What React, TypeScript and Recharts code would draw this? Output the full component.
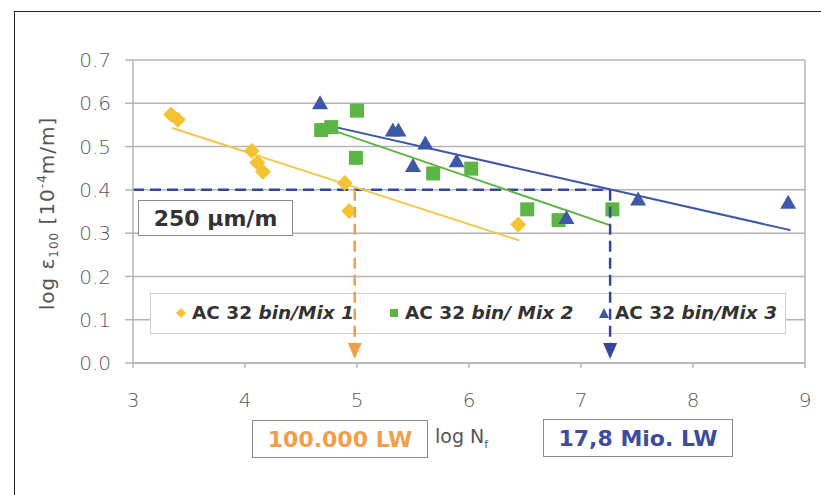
import React from 'react';
import {
  ScatterChart,
  Scatter,
  XAxis,
  YAxis,
  CartesianGrid,
  ReferenceLine,
  Label,
} from 'recharts';

// measured points (log N_f, log eps_100)
const mix1 = [
  { x: 3.34, y: 0.574 },
  { x: 3.4, y: 0.562 },
  { x: 4.06, y: 0.49 },
  { x: 4.11, y: 0.463 },
  { x: 4.16, y: 0.442 },
  { x: 4.89, y: 0.416 },
  { x: 4.93, y: 0.351 },
  { x: 6.44, y: 0.32 },
];
const mix2 = [
  { x: 4.68, y: 0.538 },
  { x: 4.77, y: 0.545 },
  { x: 5.0, y: 0.583 },
  { x: 4.99, y: 0.474 },
  { x: 5.68, y: 0.438 },
  { x: 6.02, y: 0.449 },
  { x: 6.52, y: 0.355 },
  { x: 6.8, y: 0.33 },
  { x: 7.28, y: 0.355 },
];
const mix3 = [
  { x: 4.67, y: 0.6 },
  { x: 5.32, y: 0.537 },
  { x: 5.37, y: 0.537 },
  { x: 5.5, y: 0.455 },
  { x: 5.61, y: 0.507 },
  { x: 5.89, y: 0.466 },
  { x: 6.87, y: 0.335 },
  { x: 7.51, y: 0.378 },
  { x: 8.85, y: 0.37 },
];

// regression lines, start and end
const trend1 = [{ x: 3.35, y: 0.543 }, { x: 6.45, y: 0.283 }];
const trend2 = [{ x: 4.7, y: 0.545 }, { x: 7.25, y: 0.319 }];
const trend3 = [{ x: 4.67, y: 0.553 }, { x: 8.87, y: 0.307 }];

// 250 µm/m -> log = 0.4, intersections
const strainLevel = 0.4;
const nMix1 = 4.98;
const nMix3 = 7.26;
const arrowY = 0.028;

const xTicks = [3, 4, 5, 6, 7, 8, 9];
const yTicks = [0, 0.1, 0.2, 0.3, 0.4, 0.5, 0.6, 0.7];

const legendItems = [
  { name: 'AC 32 ', italic: 'bin/Mix 1', shape: 'diamond' },
  { name: 'AC 32 ', italic: 'bin/ Mix 2', shape: 'square' },
  { name: 'AC 32 ', italic: 'bin/Mix 3', shape: 'triangle' },
];

const YELLOW = '#f5c232';
const YELLOW_LINE = '#f3c84a';
const GREEN = '#5cb545';
const BLUE = '#3d58a6';
const DASH_BLUE = '#34479a';
const ORANGE = '#f0a04a';
const GRID = '#b4b4b4';
const TEXT = '#5a5a5a';

const Diamond = (p: any) => {
  const { cx, cy } = p;
  const r = 8;
  return <polygon points={`${cx},${cy - r} ${cx + r},${cy} ${cx},${cy + r} ${cx - r},${cy}`} fill={YELLOW} />;
};
const Square = (p: any) => {
  const { cx, cy } = p;
  return <rect x={cx - 7} y={cy - 7} width={14} height={14} fill={GREEN} />;
};
const Triangle = (p: any) => {
  const { cx, cy } = p;
  return <polygon points={`${cx},${cy - 8} ${cx + 8},${cy + 6} ${cx - 8},${cy + 6}`} fill={BLUE} />;
};
const makeArrow = (color: string) => (p: any) => {
  const { cx, cy } = p;
  return <polygon points={`${cx - 7},${cy - 8} ${cx + 7},${cy - 8} ${cx},${cy + 8}`} fill={color} />;
};

const XTick = (p: any) => (
  <text x={p.x} y={p.y} dy="0.71em" textAnchor="middle" fill={TEXT} fontSize={20} fontFamily="DejaVu Sans" fontWeight={300}>
    {p.payload.value}
  </text>
);
const YTick = (p: any) => (
  <text x={p.x} y={p.y} dy="0.36em" textAnchor="end" fill={TEXT} fontSize={20} fontFamily="DejaVu Sans" fontWeight={300}>
    {p.payload.value.toFixed(1)}
  </text>
);

const YLabel = (p: any) => {
  const vb = p.viewBox;
  const cy = vb.y + vb.height / 2 + 2;
  const cx = 54;
  return (
    <text
      x={cx}
      y={cy}
      transform={`rotate(-90 ${cx} ${cy})`}
      textAnchor="middle"
      fill="#555"
      fontSize={20}
      letterSpacing={1}
      fontFamily="DejaVu Sans"
    >
      <tspan>log ε</tspan>
      <tspan fontSize={12} dy={4}>100</tspan>
      <tspan dy={-4}> [10</tspan>
      <tspan fontSize={12} dy={-8}>-4</tspan>
      <tspan dy={8}>m/m]</tspan>
    </text>
  );
};

const LegendMarker = ({ shape }: { shape: string }) => {
  if (shape === 'diamond')
    return (
      <svg width={10} height={10}>
        <polygon points="5,0 10,5 5,10 0,5" fill={YELLOW} />
      </svg>
    );
  if (shape === 'square')
    return (
      <svg width={10} height={10}>
        <rect x={1} y={1} width={8} height={8} fill={GREEN} />
      </svg>
    );
  return (
    <svg width={10} height={10}>
      <polygon points="5,0 10,10 0,10" fill={BLUE} />
    </svg>
  );
};

const boxStyle: React.CSSProperties = {
  position: 'absolute',
  border: '1.5px solid #8a8a8a',
  background: '#fff',
  boxSizing: 'border-box',
  fontFamily: 'DejaVu Sans',
  fontWeight: 'bold',
  fontSize: 22,
  display: 'flex',
  alignItems: 'center',
  justifyContent: 'center',
};

const chartMargin = { top: 60, right: 16, bottom: 102, left: 73 };
// overlay chart has hidden axes, so the plot box is given by margins alone
const overlayMargin = { top: 60, right: 16, bottom: 132, left: 133 };

export default function App() {
  return (
    <div style={{ position: 'absolute', left: 0, top: 0, width: 821, height: 495, background: '#fff', overflow: 'hidden' }}>
      <div
        style={{
          position: 'absolute',
          left: 14,
          top: 11,
          width: 830,
          height: 500,
          border: '1.5px solid #222',
          boxSizing: 'border-box',
        }}
      />
      <ScatterChart width={821} height={495} margin={chartMargin} style={{ position: 'absolute', left: 0, top: 0 }}>
        <CartesianGrid vertical={false} stroke={GRID} strokeWidth={1.5} />
        <XAxis
          type="number"
          dataKey="x"
          domain={[3, 9]}
          ticks={xTicks}
          interval={0}
          height={30}
          stroke={GRID}
          strokeWidth={1.5}
          tickSize={5}
          tickMargin={25}
          tick={<XTick />}
        />
        <YAxis
          type="number"
          dataKey="y"
          domain={[0, 0.7]}
          ticks={yTicks}
          interval={0}
          width={60}
          stroke={GRID}
          strokeWidth={1.5}
          tickSize={8}
          tickMargin={14}
          tick={<YTick />}
        >
          <Label content={<YLabel />} />
        </YAxis>
        <ReferenceLine x={9} stroke={GRID} strokeWidth={1.5} />

        <ReferenceLine
          segment={[{ x: 3, y: strainLevel }, { x: nMix3, y: strainLevel }]}
          stroke={DASH_BLUE}
          strokeWidth={2.5}
          strokeDasharray="11 6"
        />

        <ReferenceLine segment={trend1} stroke={YELLOW_LINE} strokeWidth={2} />
        <ReferenceLine segment={trend2} stroke={GREEN} strokeWidth={2} />
        <ReferenceLine segment={trend3} stroke={BLUE} strokeWidth={2} />

        <Scatter data={mix1} shape={Diamond} isAnimationActive={false} />
        <Scatter data={mix2} shape={Square} isAnimationActive={false} />
        <Scatter data={mix3} shape={Triangle} isAnimationActive={false} />
      </ScatterChart>

      {/* strain level label */}
      <div style={{ ...boxStyle, left: 138, top: 200, width: 155, height: 36, color: '#333' }}>250 µm/m</div>

      {/* legend */}
      <div
        style={{
          position: 'absolute',
          left: 150,
          top: 293,
          width: 636,
          height: 41,
          border: '1px solid #d0d0d0',
          background: '#fff',
          boxSizing: 'border-box',
          fontFamily: 'DejaVu Sans',
          fontWeight: 'bold',
          fontSize: 18.5,
          color: '#333',
        }}
      >
        {legendItems.map((it, i) => (
          <div
            key={i}
            style={{
              position: 'absolute',
              left: [25, 238, 448][i],
              top: 8,
              display: 'flex',
              alignItems: 'center',
              whiteSpace: 'nowrap',
            }}
          >
            <LegendMarker shape={it.shape} />
            <span style={{ marginLeft: 6 }}>
              {it.name}
              <i>{it.italic}</i>
            </span>
          </div>
        ))}
      </div>

      {/* drop lines to the x axis, drawn above the legend */}
      <ScatterChart
        width={821}
        height={495}
        margin={overlayMargin}
        style={{ position: 'absolute', left: 0, top: 0, pointerEvents: 'none' }}
      >
        <XAxis type="number" dataKey="x" domain={[3, 9]} hide />
        <YAxis type="number" dataKey="y" domain={[0, 0.7]} hide />
        <ReferenceLine
          segment={[{ x: nMix1, y: strainLevel }, { x: nMix1, y: arrowY }]}
          stroke={ORANGE}
          strokeWidth={2.5}
          strokeDasharray="11 6"
        />
        <ReferenceLine
          segment={[{ x: nMix3, y: strainLevel }, { x: nMix3, y: arrowY }]}
          stroke={DASH_BLUE}
          strokeWidth={2.5}
          strokeDasharray="11 6"
        />
        <Scatter data={[{ x: nMix1, y: arrowY }]} shape={makeArrow(ORANGE)} isAnimationActive={false} />
        <Scatter data={[{ x: nMix3, y: arrowY }]} shape={makeArrow(DASH_BLUE)} isAnimationActive={false} />
      </ScatterChart>

      {/* axis title and cycle counts */}
      <div style={{ ...boxStyle, left: 252, top: 420, width: 176, height: 38, color: ORANGE }}>100.000 LW</div>
      <div
        style={{
          position: 'absolute',
          left: 435,
          top: 425,
          fontFamily: 'DejaVu Sans',
          fontSize: 19,
          color: '#555',
        }}
      >
        log N<sub style={{ fontSize: 11 }}>f</sub>
      </div>
      <div style={{ ...boxStyle, left: 543, top: 419, width: 190, height: 38, color: '#3e4c9c' }}>17,8 Mio. LW</div>
    </div>
  );
}
